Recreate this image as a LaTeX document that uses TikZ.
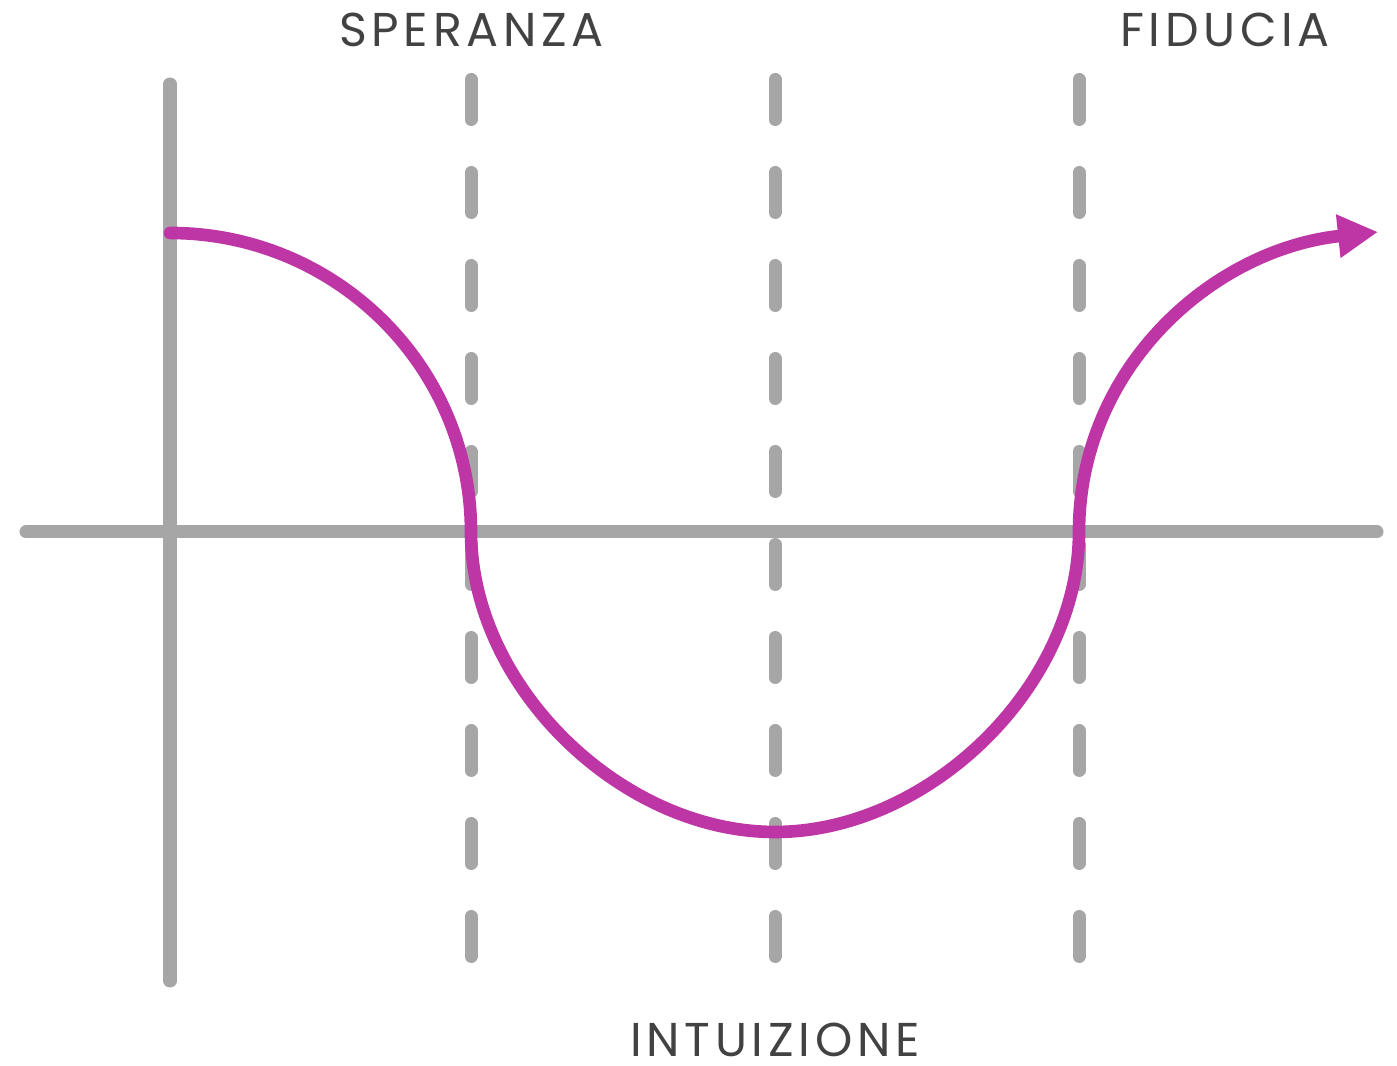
\documentclass[tikz,border=0pt]{standalone}
\usepackage{fontspec}
\setmainfont{Poppins}[LetterSpace=10]
\usepackage{xcolor}
\usepackage{tikz}
\usetikzlibrary{arrows.meta, positioning, calc}
\definecolor{axisgray}{HTML}{A6A6A6}
\definecolor{wavepink}{HTML}{BE36A6}
\definecolor{labelgray}{HTML}{424242}
\begin{document}
\begin{tikzpicture}[
    axis/.style={axisgray, line width=3.7pt, line cap=round},
    guide/.style={axisgray, line width=3.7pt, line cap=round, dash pattern=on 0.40cm off 0.53cm},
    wave/.style={wavepink, line width=3.6pt, line cap=round},
    lbl/.style={text=labelgray, font=\fontsize{13.5}{16}\selectfont, inner sep=0pt}]
    \useasboundingbox (0,0) rectangle (13.97,10.66);
    % axes
    \coordinate (xl) at (0.26,5.34);
    \coordinate (xr) at (13.77,5.34);
    \coordinate (yt) at (1.70,9.82);
    \coordinate (yb) at (1.70,0.85);
    \draw[axis] (xl) -- (xr);
    \draw[axis] (yt) -- (yb);
    % dashed guides
    \foreach \gx/\gn in {4.71/a, 7.75/b, 10.79/c} {
        \coordinate (g\gn t) at (\gx,9.865);
        \coordinate (g\gn b) at (\gx,1.06);
        \draw[guide] (g\gn t) -- (g\gn b);
    }
    % curve
    \coordinate (w0) at (1.70,8.33);
    \coordinate (w1) at (4.71,5.34);
    \coordinate (w2) at (7.75,2.34);
    \coordinate (w3) at (10.79,5.34);
    \coordinate (w4) at (13.78,8.34);
    \draw[wave, -{Triangle[length=4mm, width=4.1mm]}] (w0) to[out=0, in=90] (w1)
        to[out=-90, in=180, looseness=0.92] (w2) to[out=0, in=-90, looseness=0.92] (w3)
        to[out=90, in=186] (w4);
    % labels
    \node[lbl] (hope) at (4.715,10.36) {SPERANZA};
    \node[lbl] (trust) at (12.25,10.36) {FIDUCIA};
    \node[lbl] (intu) at (7.75,0.26) {INTUIZIONE};
\end{tikzpicture}
\end{document}
